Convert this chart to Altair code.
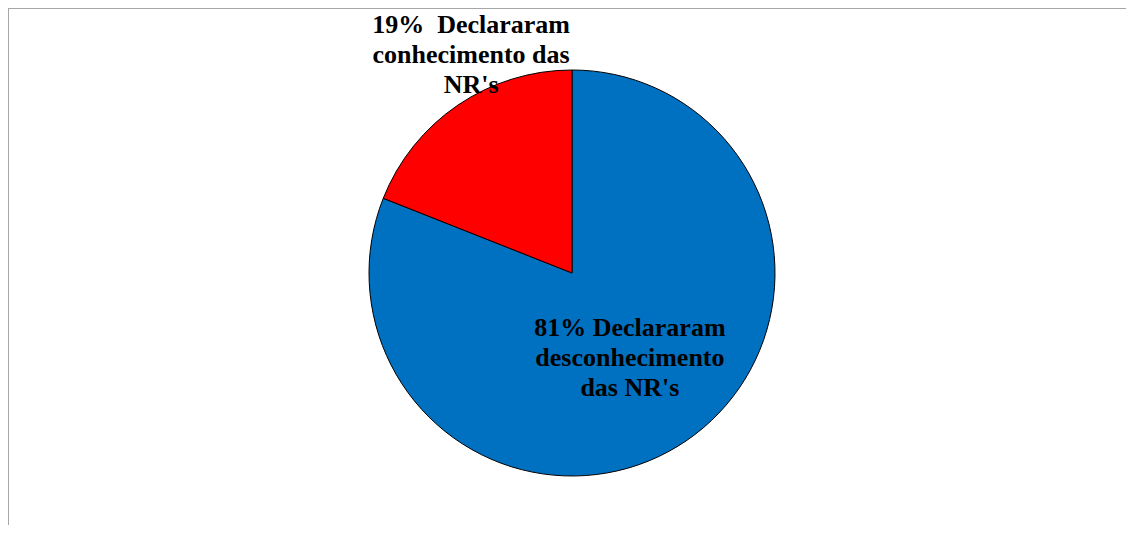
import altair as alt
import pandas as pd

categories = ["desconhecimento", "conhecimento"]
values = [81, 19]
labels = [
    "81% Declararam\ndesconhecimento\ndas NR's",
    "19%\u00a0\u00a0Declararam\nconhecimento das\nNR's",
]
colors = ["#0070C0", "#FF0000"]

df = pd.DataFrame({
    "idx": list(range(len(categories))),
    "categoria": categories,
    "valor": values,
    "rotulo": labels,
})

W, H = 1118, 517
CX, CY, R = 564, 265, 203

base = alt.Chart(df).encode(
    theta=alt.Theta("valor:Q", stack=True),
    order=alt.Order("idx:Q"),
    x=alt.value(CX),
    y=alt.value(CY),
)

arcs = base.mark_arc(radius=R, stroke="black", strokeWidth=1).encode(
    color=alt.Color("categoria:N", scale=alt.Scale(domain=categories, range=colors), legend=None)
)

font = dict(font="Liberation Serif", fontWeight="bold", fontSize=26, lineBreak="\n",
            lineHeight=30, align="center", baseline="middle", color="black")

lbl_in = base.transform_calculate(
    t="datum.categoria == 'desconhecimento' ? datum.rotulo : ''"
).mark_text(radius=103, dy=-30, **font).encode(text="t:N")

lbl_out = base.transform_calculate(
    t="datum.categoria == 'conhecimento' ? datum.rotulo : ''"
).mark_text(radius=240, dx=34, dy=-50, **font).encode(text="t:N")

frame_top = alt.Chart(df).mark_rule(color="#a6a6a6", strokeWidth=2).encode(
    x=alt.value(0), x2=alt.value(W), y=alt.value(0)
)
frame_left = alt.Chart(df).mark_rule(color="#a6a6a6", strokeWidth=2).encode(
    x=alt.value(0), y=alt.value(0), y2=alt.value(H)
)

chart = alt.layer(frame_top, frame_left, arcs, lbl_in, lbl_out).properties(
    width=W, height=H, autosize=alt.AutoSizeParams(type="none"), padding=0
).configure_view(stroke=None)

chart.save("out.html", embed_options={"renderer": "svg", "actions": False})
